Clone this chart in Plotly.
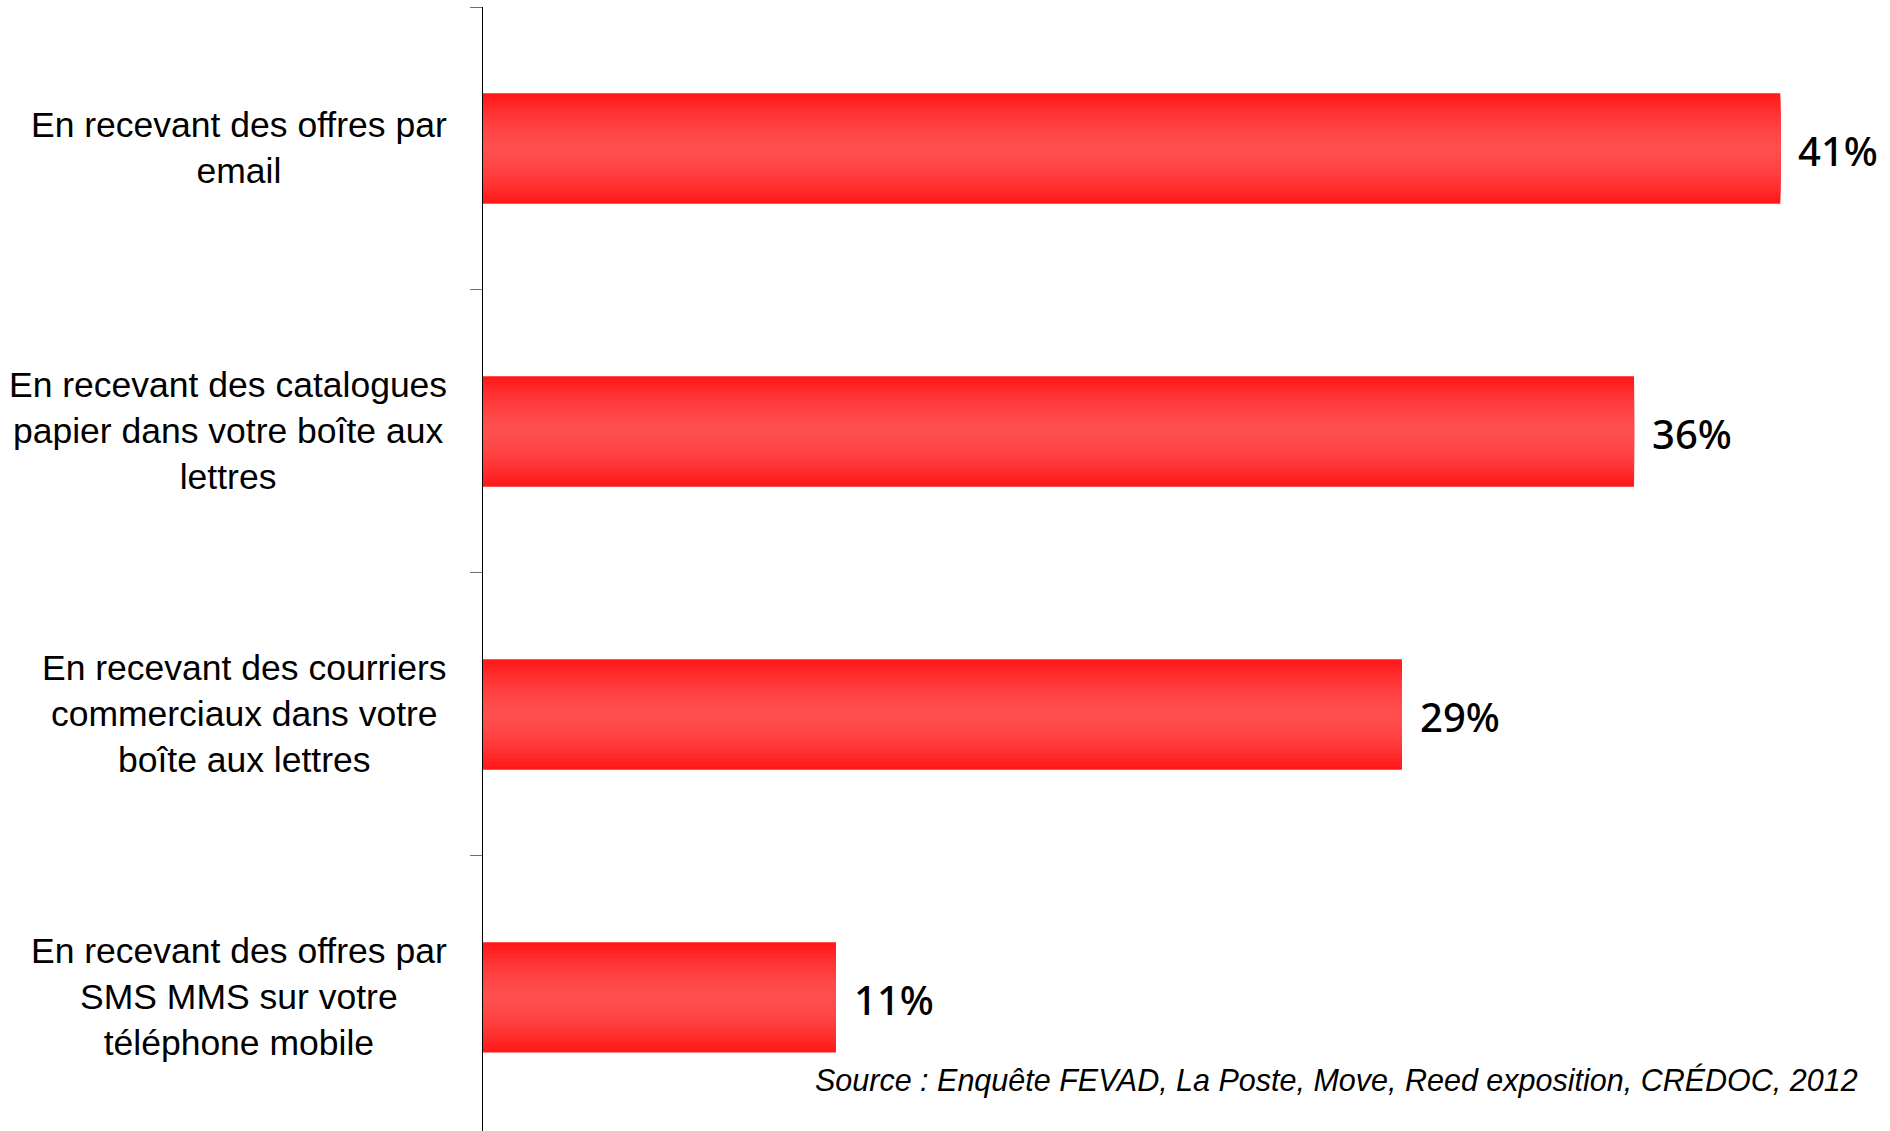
import plotly.graph_objects as go

categories = [
    "En recevant des offres par<br>email",
    "En recevant des catalogues<br>papier dans votre boîte aux<br>lettres",
    "En recevant des courriers<br>commerciaux dans votre<br>boîte aux lettres",
    "En recevant des offres par<br>SMS MMS sur votre<br>téléphone mobile",
]
values = [40.8, 36.2, 28.9, 11.1]
value_labels = ["41%", "36%", "29%", "11%"]
source_text = "Source : Enquête FEVAD, La Poste, Move, Reed exposition, CRÉDOC, 2012"

ypos = list(range(len(categories)))

fig = go.Figure()

# vertical gradient emulated with overlaid bars of decreasing thickness
N = 14
full_w = 0.39
edge = (255, 22, 22)
center = (255, 78, 78)
for k in range(N):
    w = full_w * (1 - k / N)
    t = 1 - (k + 0.5) / N
    f = t ** 1.6
    col = tuple(round(center[i] + (edge[i] - center[i]) * f) for i in range(3))
    fig.add_trace(go.Bar(
        x=values, y=ypos, orientation="h", width=w,
        marker=dict(color="rgb(%d,%d,%d)" % col, line=dict(width=0)),
        hoverinfo="skip" if k else "x+y", showlegend=False,
    ))

annotations = []
for yv, lab in zip(ypos, categories):
    annotations.append(dict(
        x=0, y=yv, xref="x", yref="y", text=lab, showarrow=False,
        xanchor="right", yanchor="middle", align="center", xshift=-34,
        font=dict(family="Liberation Sans, Arial, sans-serif", size=35.5, color="#000000"),
    ))
for yv, v, lab in zip(ypos, values, value_labels):
    annotations.append(dict(
        x=v, y=yv, xref="x", yref="y", text=lab, showarrow=False,
        xanchor="left", yanchor="middle", xshift=16, yshift=-2,
        font=dict(family="Noto Sans, Open Sans, sans-serif", size=40, color="#000000",
                  weight=500),
    ))
annotations.append(dict(
    x=0.9785, y=0.045, xref="paper", yref="paper", text=source_text, showarrow=False,
    xanchor="right", yanchor="middle",
    font=dict(family="Liberation Sans, Arial, sans-serif", size=30.5,
              color="#000000", style="italic"),
))

fig.update_layout(
    width=1890, height=1131,
    margin=dict(l=483, r=0, t=7, b=0, autoexpand=False),
    paper_bgcolor="white", plot_bgcolor="white",
    barmode="overlay",
    annotations=annotations,
    xaxis=dict(range=[0, 44.25], visible=False, showgrid=False, zeroline=False),
    yaxis=dict(
        range=[3.472, -0.5], tickmode="array", tickvals=[-0.5, 0.5, 1.5, 2.5, 3.5],
        ticktext=["", "", "", "", ""], ticks="outside", ticklen=12, tickwidth=1.3,
        tickcolor="#707070", showline=True, linecolor="#000000", linewidth=1.3,
        showgrid=False, zeroline=False,
    ),
)

fig.write_html(
    "out.html",
    config={"displayModeBar": False},
    post_script="document.body.style.margin='0';document.body.style.overflow='hidden';",
)
